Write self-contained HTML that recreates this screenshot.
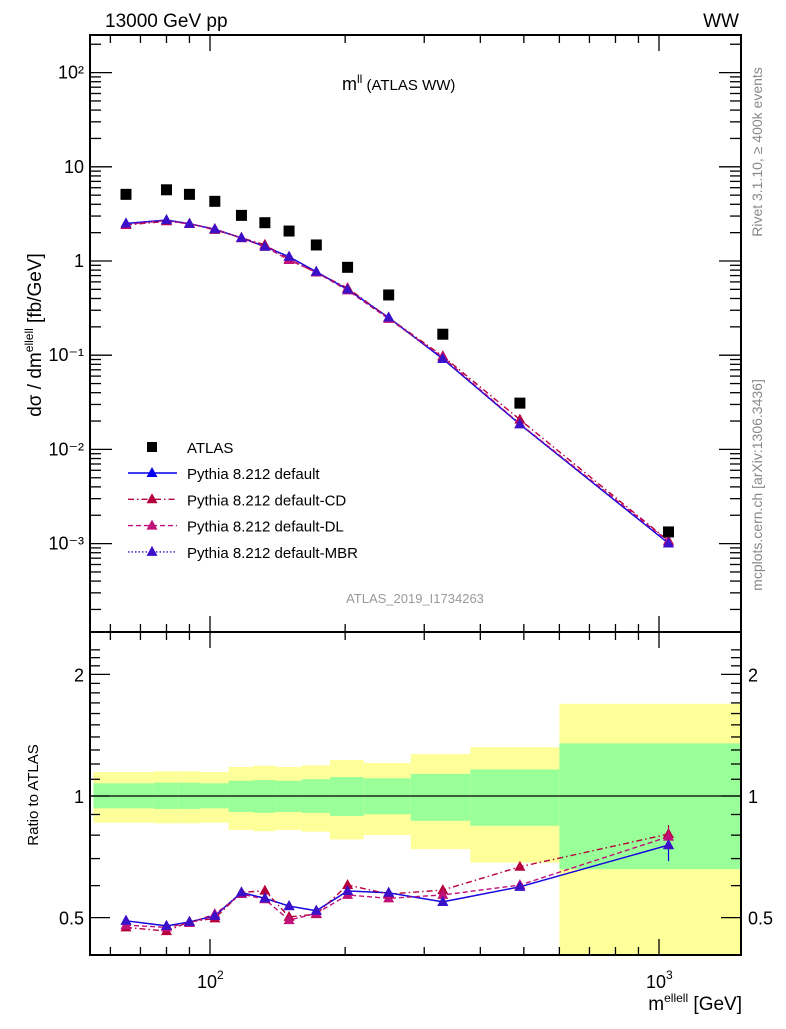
<!DOCTYPE html>
<html><head><meta charset="utf-8"><style>
body{margin:0;background:#fff}
svg text{font-family:"Liberation Sans",sans-serif}
</style></head><body>
<svg id="c" width="786" height="1024" viewBox="0 0 786 1024" xmlns="http://www.w3.org/2000/svg"></svg>
<script>
const binEdges=[55,75,85,95,110,125,140,160,185,220,280,380,600,1524];
const xPoints=[65,80,90,102.5,117.5,132.5,150,172.5,202.5,250,330,490,1050];
const atlasVals=[5.1,5.7,5.1,4.3,3.05,2.55,2.08,1.48,0.857,0.436,0.167,0.031,0.00133];
const ratioDefault=[0.491,0.477,0.488,0.505,0.577,0.558,0.534,0.520,0.582,0.576,0.547,0.596,0.756];
const ratioCD=[0.473,0.463,0.488,0.498,0.577,0.583,0.502,0.510,0.602,0.572,0.585,0.668,0.805];
const ratioDL=[0.479,0.473,0.485,0.510,0.572,0.555,0.493,0.512,0.569,0.558,0.569,0.602,0.793];
const ratioMBR=[0.491,0.477,0.488,0.505,0.577,0.558,0.534,0.520,0.582,0.576,0.547,0.596,0.756];
const yellowUp=[1.146,1.151,1.151,1.146,1.180,1.189,1.180,1.191,1.228,1.207,1.270,1.320,1.692];
const yellowDn=[0.859,0.856,0.856,0.859,0.824,0.818,0.824,0.816,0.781,0.801,0.739,0.684,0.1];
const greenUp=[1.075,1.079,1.079,1.075,1.091,1.095,1.091,1.100,1.114,1.106,1.134,1.164,1.350];
const greenDn=[0.932,0.929,0.929,0.932,0.913,0.909,0.913,0.908,0.892,0.901,0.868,0.844,0.659];
const mainTicks=[2,1,0,-1,-2,-3];
const mainTickLabels=["10²","10","1","10⁻¹","10⁻²","10⁻³"];
const ratioTickVals=[0.5,1,2];
const ratioTickLabels=["0.5","1","2"];

const NS="http://www.w3.org/2000/svg";
const svg=document.getElementById('c');
const L=90,R=741,T1=35,B1=632,T2=632,B2=955;
const X=m=>210+449*(Math.log10(m)-2);
const Y1=v=>261-94.2*Math.log10(v);
const Y2=r=>796-404*Math.log10(r);
function el(tag,attrs,parent){const e=document.createElementNS(NS,tag);for(const k in attrs)e.setAttribute(k,attrs[k]);(parent||svg).appendChild(e);return e;}
function txt(s,x,y,attrs,parent){const t=el('text',Object.assign({x:x,y:y},attrs),parent);t.textContent=s;return t;}

const bands=el('g',{});


for(let i=0;i<binEdges.length-1;i++){
  const x0=Math.max(L,X(binEdges[i])),x1=Math.min(R,X(binEdges[i+1]));
  const yu=Math.max(T2,Y2(yellowUp[i])),yd=Math.min(B2,Y2(yellowDn[i]));
  const r1=el('rect',{x:x0,y:yu,width:x1-x0,height:yd-yu,fill:'#ffff99'},bands);
  
  
  const gu=Y2(greenUp[i]),gd=Y2(greenDn[i]);
  const r2=el('rect',{x:x0,y:gu,width:x1-x0,height:gd-gu,fill:'#99ff99'},bands);
  
  
}
el('line',{x1:L,x2:R,y1:Y2(1),y2:Y2(1),stroke:'#000','stroke-width':1.3});

for(const [t,b,n] of [[T1,B1,'main-plot-frame'],[T2,B2,'ratio-plot-frame']]){
  const f=el('rect',{x:L,y:t,width:R-L,height:b-t,fill:'none',stroke:'#000','stroke-width':2});
  
  
}

const xt=el('g',{stroke:'#000','stroke-width':1.3});
for(let d=1;d<=3;d++)for(let k=1;k<10;k++){
  const m=k*Math.pow(10,d);const x=X(m);if(x<=L||x>=R)continue;
  const len=k===1?16:8;
  for(const [t,b] of [[T1,B1],[T2,B2]]){
    el('line',{x1:x,x2:x,y1:b,y2:b-len},xt);el('line',{x1:x,x2:x,y1:t,y2:t+len},xt);
  }
}
const yt=el('g',{stroke:'#000','stroke-width':1.3});
for(let d=-4;d<=2;d++)for(let k=1;k<10;k++){
  const y=Y1(k*Math.pow(10,d));if(y<T1||y>B1)continue;
  const len=k===1?22:11;
  el('line',{x1:L,x2:L+len,y1:y,y2:y},yt);el('line',{x1:R,x2:R-len,y1:y,y2:y},yt);
}
mainTicks.forEach((p,i)=>{
  const t=txt(mainTickLabels[i],84,Y1(Math.pow(10,p))+6,{'font-size':18,'text-anchor':'end'});
  
  
});
const rt=[];for(let k=2;k<10;k++)rt.push(k/10);for(let k=1;k<=2.4;k+=0.1)rt.push(k);
rt.forEach(r=>{
  const y=Y2(r);if(y<T2||y>B2)return;
  const major=[0.5,1,2].some(v=>Math.abs(v-r)<1e-6);const len=major?20:10;
  el('line',{x1:L,x2:L+len,y1:y,y2:y},yt);el('line',{x1:R,x2:R-len,y1:y,y2:y},yt);
});
ratioTickVals.forEach((v,i)=>{
  const a=txt(ratioTickLabels[i],84,Y2(v)+7,{'font-size':18,'text-anchor':'end'});
  
  
  const b=txt(ratioTickLabels[i],748,Y2(v)+7,{'font-size':18});
  
  
});
const xl1=txt('10',197,988,{'font-size':18});
txt('2',217,979,{'font-size':12});
const xl2=txt('10',646,988,{'font-size':18});
txt('3',666,979,{'font-size':12});

const series=[
 {r:ratioDefault,c:'#0000ee',dash:'',name:'pythia-default',err:16},
 {r:ratioCD,c:'#b5003c',dash:'6,3,1.5,3',name:'pythia-default-cd',err:9},
 {r:ratioDL,c:'#c0107a',dash:'5,3',name:'pythia-default-dl',err:9},
 {r:ratioMBR,c:'#3a10c8',dash:'1.5,2',name:'pythia-default-mbr',err:0}];
function tri(x,y,c,g,n){
  const p=el('polygon',{points:`${x},${y-6} ${x-5.5},${y+4} ${x+5.5},${y+4}`,fill:c},g);
  
  
}
series.forEach(s=>{
  const g=el('g',{});
  
  
  const mc=atlasVals.map((v,i)=>v*s.r[i]);
  el('polyline',{points:xPoints.map((m,i)=>X(m)+','+Y1(mc[i])).join(' '),fill:'none',stroke:s.c,'stroke-width':1.4,'stroke-dasharray':s.dash},g);
  el('polyline',{points:xPoints.map((m,i)=>X(m)+','+Y2(s.r[i])).join(' '),fill:'none',stroke:s.c,'stroke-width':1.4,'stroke-dasharray':s.dash},g);
  xPoints.forEach((m,i)=>{tri(X(m),Y1(mc[i]),s.c,g,'mc-point');tri(X(m),Y2(s.r[i]),s.c,g,'ratio-point');});
  const last=xPoints.length-1;
  if(s.err)el('line',{x1:X(xPoints[last]),x2:X(xPoints[last]),y1:Y2(s.r[last])-s.err,y2:Y2(s.r[last])+s.err,stroke:s.c,'stroke-width':1.2},g);
});
const ag=el('g',{});


xPoints.forEach((m,i)=>{
  const r=el('rect',{x:X(m)-5.5,y:Y1(atlasVals[i])-5.5,width:11,height:11,fill:'#000'},ag);
  
  
});

const lg=el('g',{});


el('rect',{x:147,y:442,width:10,height:10,fill:'#000'},lg);
const lt=txt('ATLAS',187,453,{'font-size':15},lg);
const names=['Pythia 8.212 default','Pythia 8.212 default-CD','Pythia 8.212 default-DL','Pythia 8.212 default-MBR'];
series.forEach((s,i)=>{
  const y=473+i*26.3;
  el('line',{x1:128,x2:177,y1:y,y2:y,stroke:s.c,'stroke-width':1.4,'stroke-dasharray':s.dash},lg);
  tri(152,y,s.c,lg,'legend-marker');
  const t=txt(names[i],187,y+6,{'font-size':15},lg);
  
  
});
</script>
<svg width="786" height="1024" style="position:absolute;left:0;top:0" xmlns="http://www.w3.org/2000/svg">
<text x="105" y="27" font-size="19" font-family="Liberation Sans">13000 GeV pp</text>
<text x="739" y="27" font-size="19" text-anchor="end" font-family="Liberation Sans">WW</text>
<text x="342" y="90" font-size="18" font-family="Liberation Sans">m<tspan font-size="12" dy="-7">ll</tspan><tspan dy="7" font-size="15"> (ATLAS WW)</tspan></text>
<text x="415" y="603" font-size="13" fill="#999" text-anchor="middle" font-family="Liberation Sans">ATLAS_2019_I1734263</text>
<text transform="translate(41,335) rotate(-90)" font-size="19" text-anchor="middle" font-family="Liberation Sans">dσ / dm<tspan font-size="12" dy="-8">ellell</tspan><tspan dy="8"> [fb/GeV]</tspan></text>
<text transform="translate(38,795) rotate(-90)" font-size="15" text-anchor="middle" font-family="Liberation Sans">Ratio to ATLAS</text>
<text x="742" y="1010" font-size="19" text-anchor="end" font-family="Liberation Sans">m<tspan font-size="12" dy="-8">ellell</tspan><tspan dy="8"> [GeV]</tspan></text>
<text transform="translate(762,152) rotate(-90)" font-size="14" fill="#888" text-anchor="middle" font-family="Liberation Sans">Rivet 3.1.10, ≥ 400k events</text>
<text transform="translate(762,485) rotate(-90)" font-size="14" fill="#888" text-anchor="middle" font-family="Liberation Sans">mcplots.cern.ch [arXiv:1306.3436]</text>
</svg>
</body></html>
